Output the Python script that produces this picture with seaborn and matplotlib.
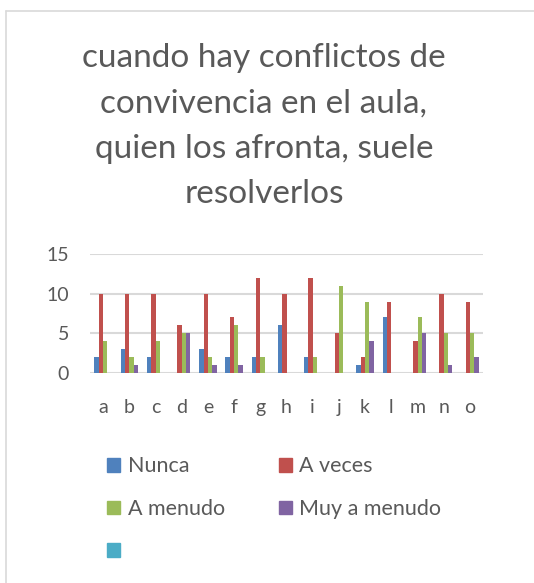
import numpy as np
import pandas as pd
import matplotlib
matplotlib.use("Agg")
import matplotlib.pyplot as plt
import matplotlib.patches as mpatches
import seaborn as sns

categories = list("abcdefghijklmno")
nunca = [2, 3, 2, 0, 3, 2, 2, 6, 2, 0, 1, 7, 0, 0, 0]
a_veces = [10, 10, 10, 6, 10, 7, 12, 10, 12, 5, 2, 9, 4, 10, 9]
a_menudo = [4, 2, 4, 5, 2, 6, 2, 0, 2, 11, 9, 0, 7, 5, 5]
muy_a_menudo = [0, 1, 0, 5, 1, 1, 0, 0, 0, 0, 4, 0, 5, 1, 2]
series_names = ["Nunca", "A veces", "A menudo", "Muy a menudo"]
yticks = [0, 5, 10, 15]
title = "cuando hay conflictos de\nconvivencia en el aula,\nquien los afronta, suele\nresolverlos"

colors = ["#4F81BD", "#C0504D", "#9BBB59", "#8064A2"]
extra_color = "#4BACC6"
text_color = "#595959"

sns.set_theme(style="white")
plt.rcParams['font.family'] = ['Lato', 'DejaVu Sans']

rows = []
for name, vals in zip(series_names, [nunca, a_veces, a_menudo, muy_a_menudo]):
    for c, v in zip(categories, vals):
        rows.append({"cat": c, "val": v, "serie": name})
df = pd.DataFrame(rows)

fig = plt.figure(figsize=(5.34, 5.83), dpi=100)
ax = fig.add_axes([90/534, 1-373/583, (483-90)/534, (373-254)/583])

sns.barplot(data=df, x="cat", y="val", hue="serie", hue_order=series_names,
            palette=colors, width=0.66, ax=ax, legend=False, saturation=1,
            edgecolor="none")

ax.set_ylim(0, 15)
ax.set_yticks(yticks)
ax.set_xlim(-0.5, len(categories)-0.5)
ax.set_xlabel("")
ax.set_ylabel("")
for s in ax.spines.values():
    s.set_visible(False)
ax.yaxis.grid(True, color="#D9D9D9", linewidth=1.5)
ax.set_axisbelow(True)
ax.tick_params(axis="both", length=0, labelsize=14, colors=text_color)
ax.tick_params(axis="y", pad=15)
ax.tick_params(axis="x", pad=19)

fig.text(264/534, 1-126/583, title, ha="center", va="center", fontsize=24,
         color=text_color, linespacing=1.63)

# figure border (left/top visible)
fig.add_artist(plt.Line2D([6/534, 6/534], [0, 1-11/583], color="#D9D9D9", lw=1.2, transform=fig.transFigure))
fig.add_artist(plt.Line2D([6/534, 1], [1-11/583, 1-11/583], color="#D9D9D9", lw=1.2, transform=fig.transFigure))

h = [mpatches.Patch(color=colors[0], label="Nunca"),
     mpatches.Patch(color=colors[2], label="A menudo"),
     mpatches.Patch(color=extra_color, label=" "),
     mpatches.Patch(color=colors[1], label="A veces"),
     mpatches.Patch(color=colors[3], label="Muy a menudo")]
leg = fig.legend(handles=h, ncol=2, loc="upper left", bbox_to_anchor=(88/534, 1-437/583),
                 frameon=False, fontsize=15.5, labelcolor=text_color,
                 handlelength=0.6, handleheight=0.6, handletextpad=0.35,
                 labelspacing=1.05, columnspacing=2.5)

fig.savefig("out.png", dpi=100)
